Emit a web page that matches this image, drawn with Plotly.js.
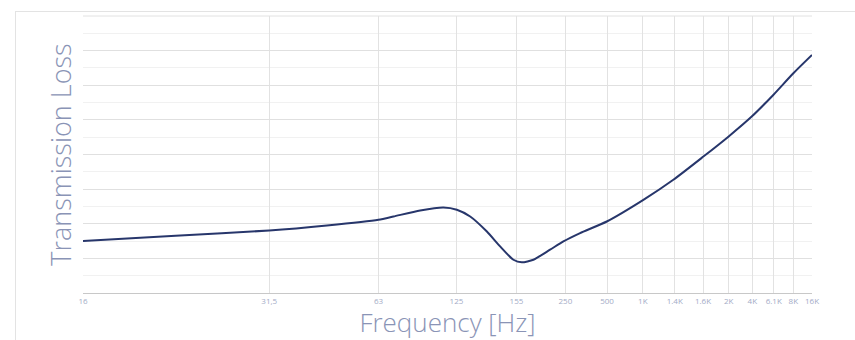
<!DOCTYPE html>
<html>
<head>
<meta charset="utf-8">
<script src="https://cdn.plot.ly/plotly-3.0.1.min.js"></script>
<style>
  html, body { margin: 0; padding: 0; background: #fff; }
  #wrap { position: relative; width: 855px; height: 340px; }
  #frame { position: absolute; left: 15px; top: 11px; right: 0; bottom: 0;
           border-left: 1px solid #e3e3e3; border-top: 1px solid #e3e3e3; pointer-events: none; }
  #chart { position: absolute; left: 0; top: 0; width: 855px; height: 340px; }
</style>
</head>
<body>
<div id="wrap">
  <div id="chart"></div>
  <div id="frame"></div>
</div>
<script>
// Frequency tick labels and their positions along the (non-uniform) frequency axis
var tickLabels = ["16", "31,5", "63", "125", "155", "250", "500", "1K", "1.4K", "1.6K", "2K", "4K", "6.1K", "8K", "16K"];
var tickPositions = [0, 25.55, 40.53, 51.23, 59.46, 66.17, 71.89, 76.79, 81.17, 85.05, 88.58, 91.81, 94.75, 97.44, 100];

// Transmission loss curve (axis position, relative level)
var curveX = [0, 12.7, 25.55, 33.46, 40.53, 42.59, 46.25, 49.44, 51.28, 53.11, 55.40, 57.22, 59.04, 60.19, 61.78, 64.07, 65.90, 68.19, 71.85, 76.87, 80.98, 85.10, 88.53, 91.73, 94.69, 97.44, 100];
var curveY = [3.00, 3.31, 3.61, 3.90, 4.23, 4.42, 4.77, 4.94, 4.81, 4.42, 3.55, 2.69, 1.92, 1.77, 1.92, 2.50, 2.98, 3.46, 4.13, 5.38, 6.54, 7.88, 9.03, 10.19, 11.44, 12.69, 13.75];

var fontFam = "'Open Sans', 'Noto Sans', sans-serif";

var trace = {
  x: curveX,
  y: curveY,
  type: 'scatter',
  mode: 'lines',
  line: { color: '#27366b', width: 2, shape: 'spline', smoothing: 0.6 },
  hoverinfo: 'skip'
};

var layout = {
  width: 855,
  height: 340,
  margin: { l: 83, r: 43, t: 16, b: 47 },
  paper_bgcolor: 'rgba(0,0,0,0)',
  plot_bgcolor: '#ffffff',
  showlegend: false,
  font: { family: fontFam },
  xaxis: {
    type: 'linear',
    range: [0, 100],
    tickmode: 'array',
    tickvals: tickPositions,
    ticktext: tickLabels,
    ticks: '',
    tickfont: { size: 8, color: '#a3abc6', family: fontFam },
    showgrid: true,
    gridcolor: '#e2e2e2',
    gridwidth: 1,
    zeroline: false,
    showline: true,
    linecolor: '#c8c8c8',
    linewidth: 1,
    title: { text: 'Frequency [Hz]', font: { size: 26, color: '#8a94b6', family: fontFam, weight: 300 }, standoff: 2 },
    fixedrange: true
  },
  yaxis: {
    range: [0, 16],
    dtick: 2,
    tick0: 0,
    showticklabels: false,
    ticks: '',
    showgrid: true,
    gridcolor: '#e0e0e0',
    gridwidth: 1,
    minor: { dtick: 1, showgrid: true, gridcolor: '#f1f1f1', gridwidth: 1, ticks: '' },
    zeroline: false,
    showline: false,
    title: { text: 'Transmission Loss', font: { size: 27, color: '#8a94b6', family: fontFam, weight: 300 }, standoff: 2 },
    fixedrange: true
  },
  shapes: [
    { type: 'line', xref: 'paper', yref: 'paper', x0: 0, x1: 1, y0: 1, y1: 1,
      line: { color: '#e2e2e2', width: 1 } }
  ]
};

Plotly.newPlot('chart', [trace], layout, { displayModeBar: false, staticPlot: true });
</script>
</body>
</html>
